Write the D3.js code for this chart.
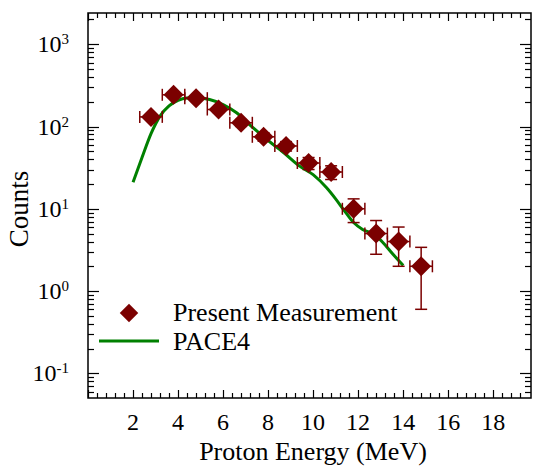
<!DOCTYPE html>
<html>
<head>
<meta charset="utf-8">
<script src="https://cdn.jsdelivr.net/npm/d3@7"></script>
<style>
  body { margin: 0; background: #fff; }
  svg { font-family: "Liberation Serif", "Times New Roman", serif; }
</style>
</head>
<body>
<div class="container"></div>
<script>
var width = 536;
var height = 472;
var plot = { left: 88, right: 531, top: 13, bottom: 398 };

// Present measurement (proton spectrum)
var measEnergy = [2.8, 3.8, 4.8, 5.8, 6.8, 7.8, 8.8, 9.8, 10.8, 11.8, 12.8, 13.8, 14.8];
var measCounts = [131, 243, 221, 161, 111, 75, 58, 36, 28, 10, 5, 4, 2];
var measCountErr = [11.4, 15.6, 14.9, 12.7, 10.5, 8.7, 7.6, 6, 5.3, 3.2, 2.2, 2, 1.4];
var measEnergyErr = [0.5, 0.5, 0.5, 0.5, 0.5, 0.5, 0.5, 0.5, 0.5, 0.5, 0.5, 0.5, 0.5];

// PACE4 calculation
var paceEnergy = [2.0, 2.4, 2.8, 3.2, 3.6, 4.0, 4.4, 4.8, 5.4, 6.0, 6.6, 7.2, 7.9, 8.7, 9.4, 10.0, 10.6, 11.0, 11.35, 11.8, 12.2, 12.7, 13.1, 13.55, 14.0];
var paceCounts = [21, 42, 82, 134, 178, 208, 222, 224, 213, 185, 147, 104, 71, 48, 33, 26, 18, 13.2, 9.8, 6.8, 5.6, 4.9, 3.9, 2.8, 2.05];

var xTickLabels = [2, 4, 6, 8, 10, 12, 14, 16, 18];
var yDecades = [-1, 0, 1, 2, 3];

var colors = {
  meas: "#7b0000",
  pace: "#008000",
  axis: "#000"
};

var svg = d3.select(".container").append("svg")
  .attr("width", width)
  .attr("height", height);

var xScale = d3.scaleLinear().domain([0, 19.68]).range([plot.left, plot.right]);
var yScale = d3.scaleLog().domain([Math.pow(10, -1.30), Math.pow(10, 3.38)]).range([plot.bottom, plot.top]);

// frame
svg.append("rect")
  .attr("x", plot.left)
  .attr("y", plot.top)
  .attr("width", plot.right - plot.left)
  .attr("height", plot.bottom - plot.top)
  .style("fill", "none")
  .style("stroke", colors.axis)
  .style("stroke-width", 1.5);

// x ticks: major every 2, minor every 0.4, on bottom and top, pointing inward
var xMinor = d3.range(0, 19.6, 0.4);
var tickGroup = svg.append("g").style("stroke", colors.axis).style("stroke-width", 1.2);
xMinor.forEach(function (v) {
  var isMajor = Math.abs(v / 2 - Math.round(v / 2)) < 1e-6;
  var len = isMajor ? 8 : 5;
  var x = Math.round(xScale(v)) + 0.5;
  tickGroup.append("line")
    .attr("x1", x).attr("x2", x)
    .attr("y1", plot.bottom).attr("y2", plot.bottom - len);
  tickGroup.append("line")
    .attr("x1", x).attr("x2", x)
    .attr("y1", plot.top).attr("y2", plot.top + len);
});

// y ticks: decades + minor 2..9, left and right
var yDom = yScale.domain();
d3.range(-2, 4).forEach(function (p) {
  for (var m = 1; m < 10; m++) {
    var v = m * Math.pow(10, p);
    if (v < yDom[0] || v > yDom[1]) continue;
    var len = m === 1 ? 11 : 6;
    var y = Math.round(yScale(v)) + 0.5;
    tickGroup.append("line")
      .attr("x1", plot.left).attr("x2", plot.left + len)
      .attr("y1", y).attr("y2", y);
    tickGroup.append("line")
      .attr("x1", plot.right).attr("x2", plot.right - len)
      .attr("y1", y).attr("y2", y);
  }
});

// x tick labels
svg.selectAll("text.xlab")
  .data(xTickLabels)
  .enter().append("text")
  .attr("class", "xlab")
  .attr("x", function (d) { return xScale(d); })
  .attr("y", 430)
  .style("text-anchor", "middle")
  .style("font-size", "24px")
  .text(function (d) { return d; });

// y tick labels 10^n
yDecades.forEach(function (p) {
  var t = svg.append("text")
    .attr("x", 69)
    .attr("y", yScale(Math.pow(10, p)) + 8)
    .style("text-anchor", "end")
    .style("font-size", "24px");
  t.append("tspan").text("10");
  t.append("tspan")
    .attr("dy", -8)
    .style("font-size", "15px")
    .text(p);
});

// axis titles
svg.append("text")
  .attr("x", 313)
  .attr("y", 460)
  .style("text-anchor", "middle")
  .style("font-size", "26px")
  .text("Proton Energy (MeV)");

svg.append("text")
  .attr("transform", "translate(28," + 209 + ") rotate(-90)")
  .style("text-anchor", "middle")
  .style("font-size", "27px")
  .text("Counts");

// PACE4 curve
var paceData = paceEnergy.map(function (e, i) { return [e, paceCounts[i]]; });
var line = d3.line()
  .x(function (d) { return xScale(d[0]); })
  .y(function (d) { return yScale(d[1]); })
  .curve(d3.curveMonotoneX);

svg.append("path")
  .datum(paceData)
  .attr("d", line)
  .style("fill", "none")
  .style("stroke", colors.pace)
  .style("stroke-width", 3);

// error bars
var measData = measEnergy.map(function (e, i) {
  return { x: e, y: measCounts[i], dx: measEnergyErr[i], dy: measCountErr[i] };
});
var cap = 6;
var errGroup = svg.append("g")
  .style("stroke", colors.meas)
  .style("stroke-width", 1.5)
  .style("fill", "none");

measData.forEach(function (d) {
  var cx = xScale(d.x), cy = yScale(d.y);
  var x0 = xScale(d.x - d.dx), x1 = xScale(d.x + d.dx);
  var y0 = yScale(d.y - d.dy), y1 = yScale(d.y + d.dy);
  errGroup.append("line").attr("x1", x0).attr("x2", x1).attr("y1", cy).attr("y2", cy);
  errGroup.append("line").attr("x1", x0).attr("x2", x0).attr("y1", cy - cap).attr("y2", cy + cap);
  errGroup.append("line").attr("x1", x1).attr("x2", x1).attr("y1", cy - cap).attr("y2", cy + cap);
  errGroup.append("line").attr("x1", cx).attr("x2", cx).attr("y1", y0).attr("y2", y1);
  errGroup.append("line").attr("x1", cx - cap).attr("x2", cx + cap).attr("y1", y0).attr("y2", y0);
  errGroup.append("line").attr("x1", cx - cap).attr("x2", cx + cap).attr("y1", y1).attr("y2", y1);
});

// diamonds (square rotated 45 deg)
var diamond = d3.symbol().type(d3.symbolSquare).size(200);
svg.selectAll("path.meas")
  .data(measData)
  .enter().append("path")
  .attr("class", "meas")
  .attr("d", diamond)
  .attr("transform", function (d) {
    return "translate(" + xScale(d.x) + "," + yScale(d.y) + ") rotate(45)";
  })
  .style("fill", colors.meas);

// legend
var key = svg.append("g");
key.append("path")
  .attr("d", d3.symbol().type(d3.symbolSquare).size(170))
  .attr("transform", "translate(129,313) rotate(45)")
  .style("fill", colors.meas);
key.append("text")
  .attr("x", 173)
  .attr("y", 321)
  .style("font-size", "26px")
  .text("Present Measurement");
key.append("line")
  .attr("x1", 99).attr("x2", 159)
  .attr("y1", 341).attr("y2", 341)
  .style("stroke", colors.pace)
  .style("stroke-width", 3);
key.append("text")
  .attr("x", 173)
  .attr("y", 350)
  .style("font-size", "26px")
  .text("PACE4");
</script>
</body>
</html>
